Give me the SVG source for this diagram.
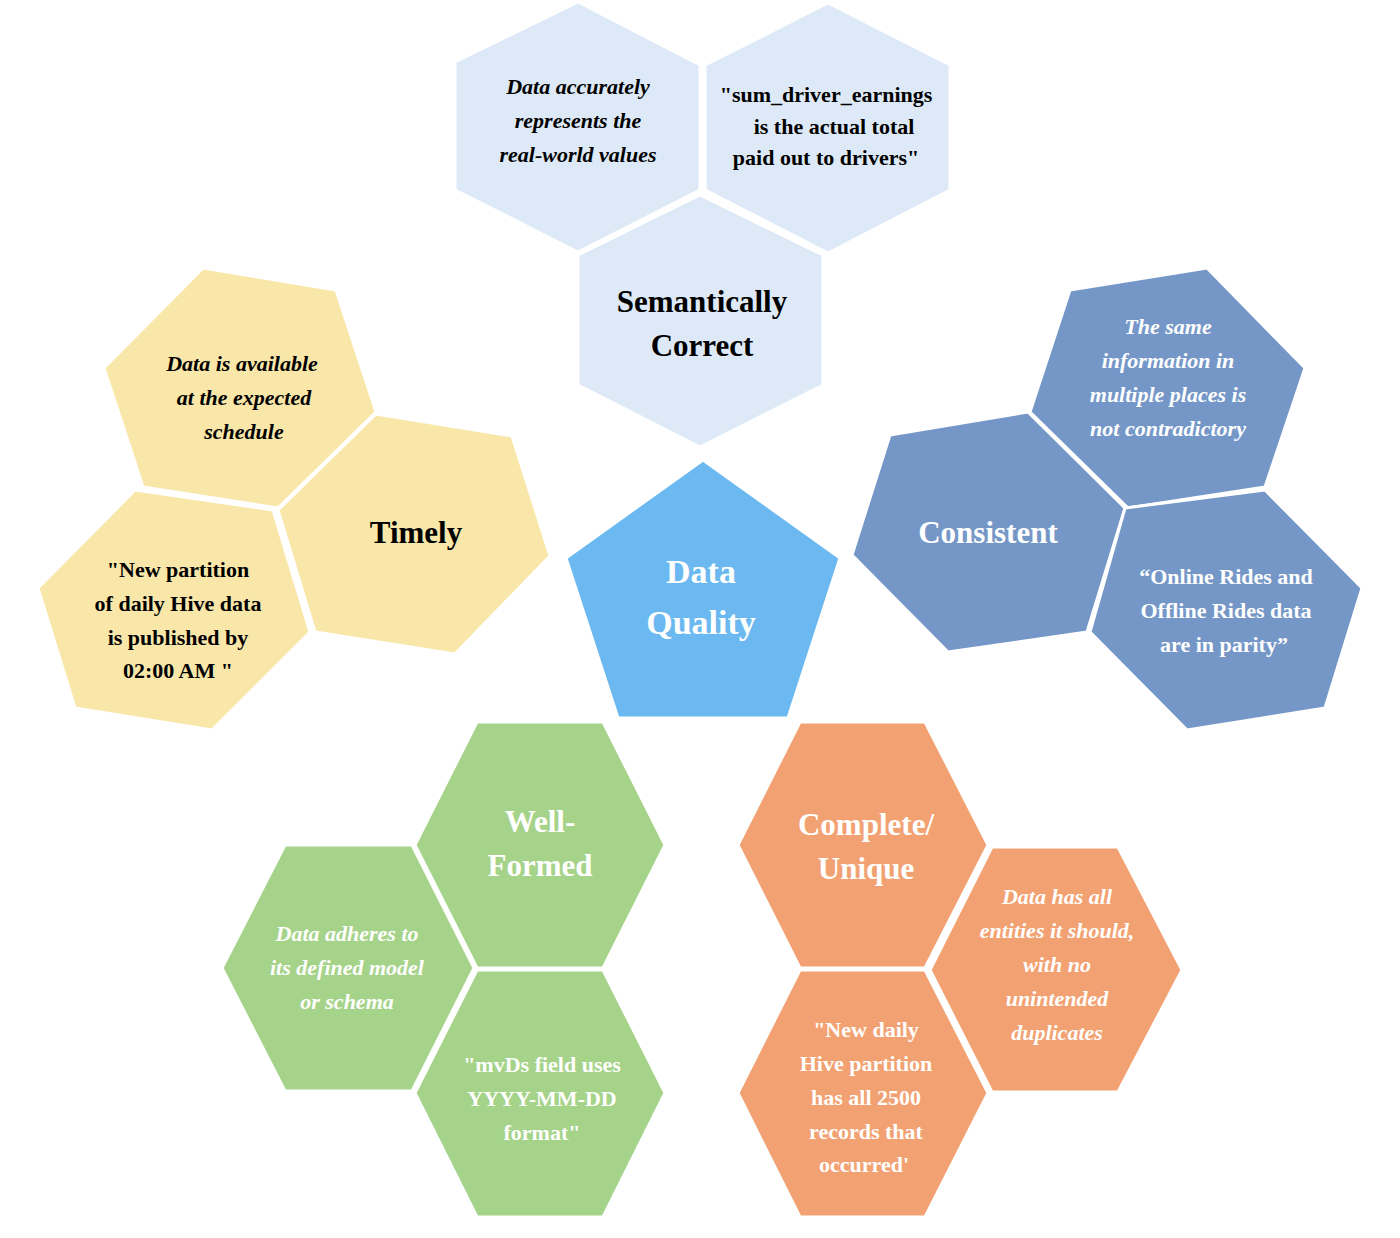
<svg xmlns="http://www.w3.org/2000/svg" width="1400" height="1238" viewBox="0 0 1400 1238">
<style>
polygon{stroke:#fff;stroke-width:3}
.lb{fill:#dde9f6}.y{fill:#f9e7a9}.b{fill:#7597c7}.p{fill:#6bb9f0}.g{fill:#a6d38a}.o{fill:#f2a272}
text{font-family:"Liberation Serif","DejaVu Serif",serif;font-weight:bold;text-anchor:middle}
.t{font-size:31px}.s{font-size:22px}.i{font-style:italic}
.k{fill:#000}.w{fill:#fff}
</style>
<rect width="1400" height="1238" fill="#fff"/>
<g id="sem-desc"><polygon class="lb" points="578,2 700,65 700,190 578,252 455,190 455,62"/>
<text class="s i k"><tspan x="578" y="94">Data accurately</tspan><tspan x="578" y="128">represents the</tspan><tspan x="578" y="162">real-world values</tspan></text></g>
<g id="sem-ex"><polygon class="lb" points="828,3 950,65 950,190 828,253 705,190 705,65"/>
<text class="s k"><tspan x="826" y="102">"sum_driver_earnings</tspan><tspan x="834" y="134">is the actual total</tspan><tspan x="826" y="165">paid out to drivers"</tspan></text></g>
<g id="semantic"><polygon class="lb" points="700,195 823,255 823,385 700,447 578,385 578,255"/>
<text class="t k"><tspan x="702" y="312">Semantically</tspan><tspan x="702" y="356">Correct</tspan></text></g>

<g id="timely-desc"><polygon class="y" points="203,268 336,290 376,412 278,508 143,487 104,368"/>
<text class="s i k"><tspan x="242" y="371">Data is available</tspan><tspan x="244" y="405">at the expected</tspan><tspan x="244" y="439">schedule</tspan></text></g>
<g id="timely"><polygon class="y" points="376,414 512,436 550,556 455,654 315,632 278,510"/>
<text class="t k" x="416" y="543">Timely</text></g>
<g id="timely-ex"><polygon class="y" points="135,490 273,510 310,632 212,730 75,708 38,588"/>
<text class="s k"><tspan x="178" y="577">"New partition</tspan><tspan x="178" y="611">of daily Hive data</tspan><tspan x="178" y="645">is published by</tspan><tspan x="178" y="678">02:00 AM "</tspan></text></g>

<g id="cons-desc"><polygon class="b" points="1070,290 1207,268 1305,368 1265,487 1128,508 1030,412"/>
<text class="s i w"><tspan x="1168" y="334">The same</tspan><tspan x="1168" y="368">information in</tspan><tspan x="1168" y="402">multiple places is</tspan><tspan x="1168" y="436">not contradictory</tspan></text></g>
<g id="consistent"><polygon class="b" points="890,435 1028,412 1125,508 1087,632 948,652 852,555"/>
<text class="t w" x="988" y="543">Consistent</text></g>
<g id="cons-ex"><polygon class="b" points="1125,508 1265,490 1362,588 1325,708 1187,730 1090,632"/>
<text class="s w"><tspan x="1226" y="584">“Online Rides and</tspan><tspan x="1226" y="618">Offline Rides data</tspan><tspan x="1224" y="652">are in parity”</tspan></text></g>

<g id="data-quality"><polygon class="p" points="703,460 840,558 788,718 618,718 566,558"/>
<text class="t w" style="font-size:34px"><tspan x="701" y="583">Data</tspan><tspan x="701" y="634">Quality</tspan></text></g>

<g id="wellformed"><polygon class="g" points="477,722 603,722 665,845 603,968 477,968 415,845"/>
<text class="t w"><tspan x="540" y="832">Well-</tspan><tspan x="540" y="876">Formed</tspan></text></g>
<g id="wf-desc"><polygon class="g" points="285,845 412,845 474,968 412,1091 285,1091 222,968"/>
<text class="s i w"><tspan x="347" y="941">Data adheres to</tspan><tspan x="347" y="975">its defined model</tspan><tspan x="347" y="1009">or schema</tspan></text></g>
<g id="wf-ex"><polygon class="g" points="477,970 603,970 665,1093 603,1217 477,1217 415,1093"/>
<text class="s w"><tspan x="542" y="1072">"mvDs field uses</tspan><tspan x="542" y="1106">YYYY-MM-DD</tspan><tspan x="542" y="1140">format"</tspan></text></g>

<g id="complete"><polygon class="o" points="800,722 925,722 988,845 925,968 800,968 738,845"/>
<text class="t w"><tspan x="866" y="835">Complete/</tspan><tspan x="866" y="879">Unique</tspan></text></g>
<g id="comp-desc"><polygon class="o" points="992,847 1118,847 1182,970 1118,1092 992,1092 930,970"/>
<text class="s i w"><tspan x="1057" y="904">Data has all</tspan><tspan x="1057" y="938">entities it should,</tspan><tspan x="1057" y="972">with no</tspan><tspan x="1057" y="1006">unintended</tspan><tspan x="1057" y="1040">duplicates</tspan></text></g>
<g id="comp-ex"><polygon class="o" points="800,970 925,970 988,1093 925,1217 800,1217 738,1093"/>
<text class="s w"><tspan x="866" y="1037">"New daily</tspan><tspan x="866" y="1071">Hive partition</tspan><tspan x="866" y="1105">has all 2500</tspan><tspan x="866" y="1139">records that</tspan><tspan x="864" y="1172">occurred'</tspan></text></g>
<g id="connectors"/>
</svg>
